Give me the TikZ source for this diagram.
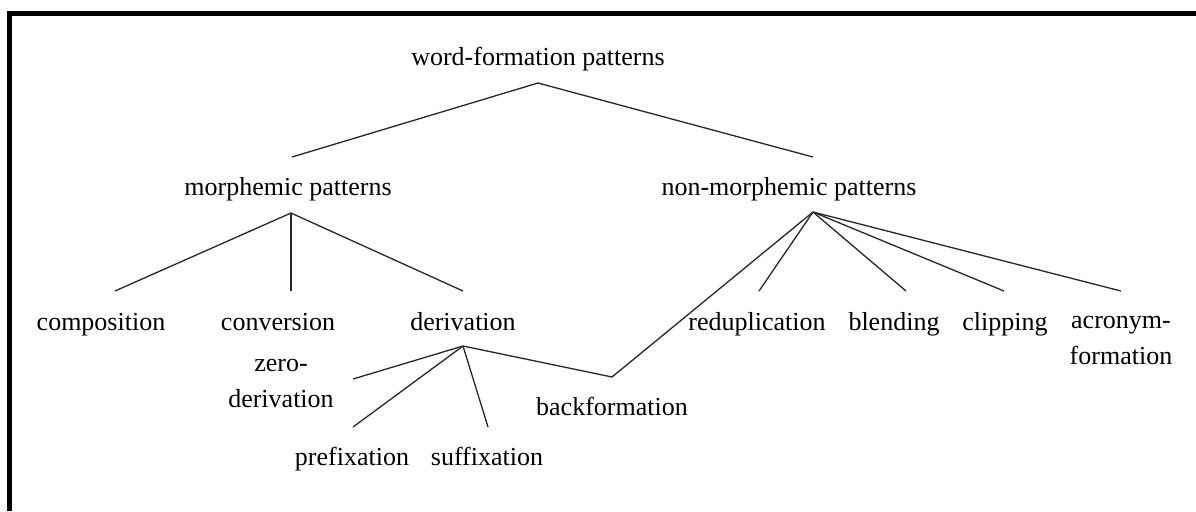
\documentclass[tikz,border=0pt]{standalone}
\usepackage{fontspec}
\setmainfont{Liberation Serif}
\begin{document}
\begin{tikzpicture}[x=0.5pt,y=-0.5pt,
  lbl/.style={anchor=base,inner sep=0pt,font=\fontsize{13}{18}\selectfont,align=center},
  edge/.style={draw=black!85,line width=0.65pt},
  frame/.style={draw=black,line width=2.5pt}]
\useasboundingbox (0,0) rectangle (1196,511);
% frame (top and left sides only)
\coordinate (fa) at (9.5,511);
\coordinate (fb) at (9.5,13.5);
\coordinate (fc) at (1196,13.5);
\draw[frame] (fa) -- (fb) -- (fc);

% labels
\node[lbl] (wf) at (538,65) {word-formation patterns};
\node[lbl] (mp) at (288,195) {morphemic patterns};
\node[lbl] (nmp) at (789,195) {non-morphemic patterns};
\node[lbl] (comp) at (101,330) {composition};
\node[lbl] (conv) at (278,330) {conversion};
\node[lbl] (deriv) at (463,330) {derivation};
\node[lbl] (zero) at (281,407) {zero-\\derivation};
\node[lbl] (back) at (612,415) {backformation};
\node[lbl] (pref) at (352,465) {prefixation};
\node[lbl] (suff) at (487,465) {suffixation};
\node[lbl] (redup) at (757,330) {reduplication};
\node[lbl] (blend) at (894,330) {blending};
\node[lbl] (clip) at (1005,330) {clipping};
\node[lbl] (acro) at (1121,364) {acronym-\\formation};

% branch points and line ends
\coordinate (wfb) at (538,83);
\coordinate (mpt) at (292,157);
\coordinate (nmpt) at (813,157);
\coordinate (mpb) at (291,213);
\coordinate (compt) at (115,291);
\coordinate (convt) at (291,291);
\coordinate (derivt) at (463,291);
\coordinate (derivb) at (463,346);
\coordinate (zerot) at (353,379);
\coordinate (preft) at (353,427);
\coordinate (sufft) at (488,427);
\coordinate (backt) at (612,377);
\coordinate (nmpb) at (813,212);
\coordinate (redupt) at (759,291);
\coordinate (blendt) at (906,291);
\coordinate (clipt) at (1004,291);
\coordinate (acrot) at (1121,291);

% connectors
\draw[edge] (mpt) -- (wfb) -- (nmpt);
\draw[edge] (mpb) -- (compt);
\draw[edge] (mpb) -- (convt);
\draw[edge] (mpb) -- (derivt);
\draw[edge] (derivb) -- (zerot);
\draw[edge] (derivb) -- (preft);
\draw[edge] (derivb) -- (sufft);
\draw[edge] (derivb) -- (backt) -- (nmpb);
\draw[edge] (nmpb) -- (redupt);
\draw[edge] (nmpb) -- (blendt);
\draw[edge] (nmpb) -- (clipt);
\draw[edge] (nmpb) -- (acrot);
\end{tikzpicture}
\end{document}
